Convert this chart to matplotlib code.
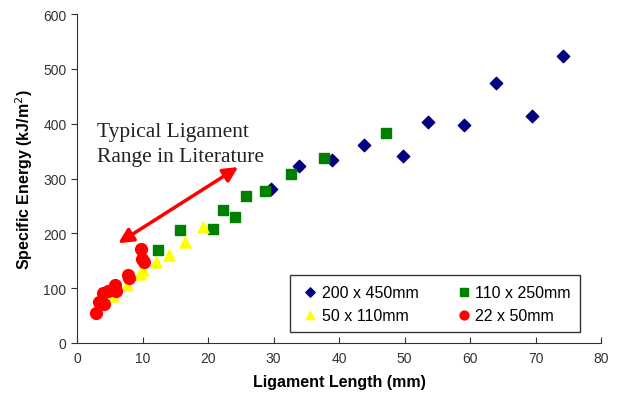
import matplotlib
matplotlib.use("Agg")
import matplotlib.pyplot as plt

# series: ligament length (mm) vs specific energy (kJ/m^2)
x_200x450 = [29.6, 33.9, 39.0, 43.8, 49.7, 53.6, 59.0, 63.9, 69.4, 74.2]
y_200x450 = [281, 323, 334, 362, 342, 403, 397, 474, 414, 523]

x_110x250 = [12.4, 15.7, 20.8, 22.3, 24.1, 25.8, 28.7, 32.7, 37.7, 47.2]
y_110x250 = [170, 206, 208, 243, 229, 268, 277, 308, 337, 383]

x_50x110 = [5.5, 7.6, 9.6, 10.1, 12.1, 14.1, 16.5, 19.2]
y_50x110 = [86, 106, 126, 133, 148, 161, 184, 211]

x_22x50 = [2.9, 3.3, 4.1, 4.0, 4.8, 5.8, 6.0, 7.8, 8.0, 9.8, 9.9, 10.2]
y_22x50 = [55, 74, 71, 92, 95, 105, 95, 124, 118, 172, 153, 147]

labels = ["200 x 450mm", "110 x 250mm", "50 x 110mm", "22 x 50mm"]
arrow_from = (6.3, 182)
arrow_to = (24.6, 321)
note = "Typical Ligament\nRange in Literature"

plt.rcParams["font.family"] = ["Liberation Sans", "DejaVu Sans"]

fig = plt.figure(figsize=(6.18, 4.10), dpi=100)
ax = fig.add_axes([0.1246, 0.161, 0.848, 0.802])

h1 = ax.scatter(x_200x450, y_200x450, marker="D", s=40, color="#000080", label=labels[0], zorder=3)
h2 = ax.scatter(x_110x250, y_110x250, marker="s", s=62, color="#008000", label=labels[1], zorder=3)
h3 = ax.scatter(x_50x110, y_50x110, marker="^", s=62, color="#FFFF00", label=labels[2], zorder=3)
h4 = ax.scatter(x_22x50, y_22x50, marker="o", s=72, color="#FF0000", label=labels[3], zorder=4)

ax.annotate("", xy=arrow_to, xytext=arrow_from,
            arrowprops=dict(arrowstyle="<|-|>", color="#FF0000", lw=2.5,
                            mutation_scale=22, shrinkA=0, shrinkB=0))
ax.text(3.0, 363, note, family=["Liberation Serif", "DejaVu Serif"], fontsize=15.5,
        color="#222222", va="center", ha="left", linespacing=1.4)

ax.set_xlim(0, 80)
ax.set_ylim(0, 600)
ax.set_xticks(range(0, 81, 10))
ax.set_yticks(range(0, 601, 100))
ax.spines["top"].set_visible(False)
ax.spines["right"].set_visible(False)
for s in ("left", "bottom"):
    ax.spines[s].set_color("#333333")
ax.tick_params(axis="y", direction="out", length=4, labelsize=10, colors="#333333")
ax.tick_params(axis="x", direction="in", length=4, labelsize=10, colors="#333333", pad=6)

ax.set_xlabel("Ligament Length (mm)", fontsize=11.5, fontweight="bold", labelpad=6)
ax.set_ylabel("Specific Energy (kJ/m$^2$)", fontsize=11.5, fontweight="bold", labelpad=6)

# column-wise fill: order so rows read 200/110 then 50/22
leg = ax.legend([h1, h3, h2, h4], [labels[0], labels[2], labels[1], labels[3]],
                loc="lower right", bbox_to_anchor=(0.96, 0.033), borderaxespad=0,
                ncol=2, fontsize=11.5, frameon=True, fancybox=False, edgecolor="black",
                handletextpad=0.05, columnspacing=2.2, borderpad=0.6, labelspacing=0.5,
                markerscale=0.75, handlelength=1.3)
leg.get_frame().set_linewidth(1.0)

fig.savefig("out.png", dpi=100)
